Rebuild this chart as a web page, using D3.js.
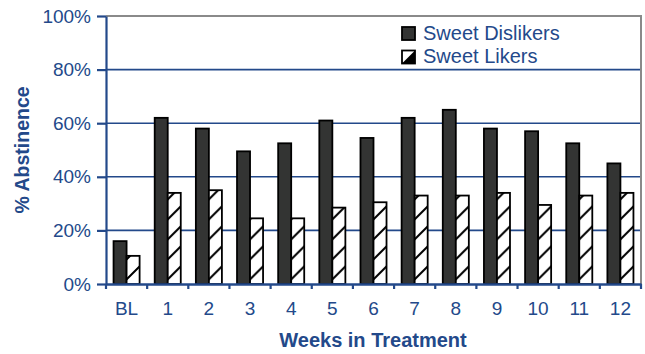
<!DOCTYPE html>
<html>
<head>
<meta charset="utf-8">
<script src="https://cdn.jsdelivr.net/npm/d3@7"></script>
<style>
  body { margin: 0; background: #fff; }
  text { font-family: "Liberation Sans", Arial, sans-serif; }
</style>
</head>
<body>
<div id="chart"></div>
<script>
// data
const weeks = ["BL", "1", "2", "3", "4", "5", "6", "7", "8", "9", "10", "11", "12"];
const seriesNames = ["Sweet Dislikers", "Sweet Likers"];
const dislikers = [16, 62, 58, 49.5, 52.5, 61, 54.5, 62, 65, 58, 57, 52.5, 45];
const likers = [10.5, 34, 35, 24.5, 24.5, 28.5, 30.5, 33, 33, 34, 29.5, 33, 34];
const yTicks = [0, 20, 40, 60, 80, 100];

const W = 645, H = 354;
const margin = { top: 16, right: 4, bottom: 70, left: 106 };
const blue = "#23498a";
const gray = "#8a8a8a";

const svg = d3.select("#chart").append("svg")
    .attr("width", W)
    .attr("height", H);

const defs = svg.append("defs");
const pat = defs.append("pattern")
    .attr("id", "hatch")
    .attr("patternUnits", "userSpaceOnUse")
    .attr("width", 20)
    .attr("height", 20);
pat.append("rect").attr("width", 20).attr("height", 20).attr("fill", "#fff");
pat.append("path")
    .attr("d", "M0,20 L20,0 M-5,5 L5,-5 M15,25 L25,15")
    .attr("stroke", "#000")
    .attr("stroke-width", 2);

const x = d3.scaleBand()
    .domain(weeks)
    .range([margin.left, W - margin.right])
    .padding(0);

const x1 = d3.scaleBand()
    .domain(seriesNames)
    .range([0, x.bandwidth()])
    .paddingInner(0)
    .paddingOuter(0.58);

const y = d3.scaleLinear()
    .domain([0, 100])
    .range([H - margin.bottom, margin.top]);

// gridlines
svg.append("g")
    .selectAll("line")
    .data(yTicks.filter(d => d > 0 && d < 100))
    .enter()
    .append("line")
    .attr("x1", margin.left)
    .attr("x2", W - margin.right)
    .attr("y1", d => y(d))
    .attr("y2", d => y(d))
    .attr("stroke", blue)
    .attr("stroke-width", 1.6);

// frame top + right
svg.append("path")
    .attr("d", `M${margin.left},${y(100)} H${W - margin.right} V${y(0)}`)
    .attr("fill", "none")
    .attr("stroke", gray)
    .attr("stroke-width", 2);

// bars
const rows = weeks.map((w, i) => ({ week: w, vals: [dislikers[i], likers[i]] }));

const groups = svg.append("g")
    .selectAll("g")
    .data(rows)
    .enter()
    .append("g")
    .attr("transform", d => `translate(${x(d.week)},0)`);

groups.selectAll("rect")
    .data(d => d.vals.map((v, j) => ({ name: seriesNames[j], v })))
    .enter()
    .append("rect")
    .attr("x", d => x1(d.name))
    .attr("y", d => y(d.v))
    .attr("width", x1.bandwidth())
    .attr("height", d => y(0) - y(d.v))
    .attr("fill", d => d.name === "Sweet Dislikers" ? "#333433" : "url(#hatch)")
    .attr("stroke", "#000")
    .attr("stroke-width", 1.8);

// y axis
const yAxis = svg.append("g")
    .attr("transform", `translate(${margin.left},0)`)
    .call(d3.axisLeft(y).tickValues(yTicks).tickFormat(d => d + "%").tickSizeInner(9).tickSizeOuter(0).tickPadding(6));
yAxis.select(".domain").attr("stroke", blue).attr("stroke-width", 2.2);
yAxis.selectAll(".tick line").attr("stroke", blue).attr("stroke-width", 2.2);
yAxis.selectAll("text")
    .attr("fill", blue)
    .style("font-size", "19px");

// x axis
const xAxis = svg.append("g")
    .attr("transform", `translate(0,${y(0)})`)
    .call(d3.axisBottom(x).tickSizeInner(0).tickSizeOuter(0).tickPadding(18));
xAxis.select(".domain").attr("stroke", blue).attr("stroke-width", 2.4);
xAxis.selectAll(".tick line").remove();
xAxis.selectAll("text")
    .attr("fill", blue)
    .style("font-size", "19px");

// tick marks at band boundaries
xAxis.append("g")
    .selectAll("line")
    .data(weeks.map(w => x(w)).concat([x.range()[1]]))
    .enter()
    .append("line")
    .attr("x1", d => d)
    .attr("x2", d => d)
    .attr("y1", 0)
    .attr("y2", 5)
    .attr("stroke", blue)
    .attr("stroke-width", 2.2);

// axis titles
svg.append("text")
    .attr("transform", `translate(29,${(y(0) + y(100)) / 2}) rotate(-90)`)
    .attr("text-anchor", "middle")
    .attr("fill", blue)
    .style("font-size", "19.5px")
    .style("font-weight", "bold")
    .text("% Abstinence");

svg.append("text")
    .attr("x", 373)
    .attr("y", 347)
    .attr("text-anchor", "middle")
    .attr("fill", blue)
    .style("font-size", "20px")
    .style("font-weight", "bold")
    .text("Weeks in Treatment");

// legend
const legend = svg.append("g").attr("transform", "translate(402,27)");
seriesNames.forEach((name, i) => {
    const g = legend.append("g").attr("transform", `translate(0,${i * 23.5})`);
    g.append("rect")
        .attr("width", 13)
        .attr("height", 13)
        .attr("fill", i === 0 ? "#333433" : "#fff")
        .attr("stroke", "#000")
        .attr("stroke-width", 1.8);
    if (i === 1) {
        g.append("path")
            .attr("d", "M0,13 L13,0 L13,13 Z")
            .attr("fill", "#000");
    }
    g.append("text")
        .attr("x", 21)
        .attr("y", 12.5)
        .attr("fill", blue)
        .style("font-size", "20px")
        .text(name);
});
</script>
</body>
</html>
